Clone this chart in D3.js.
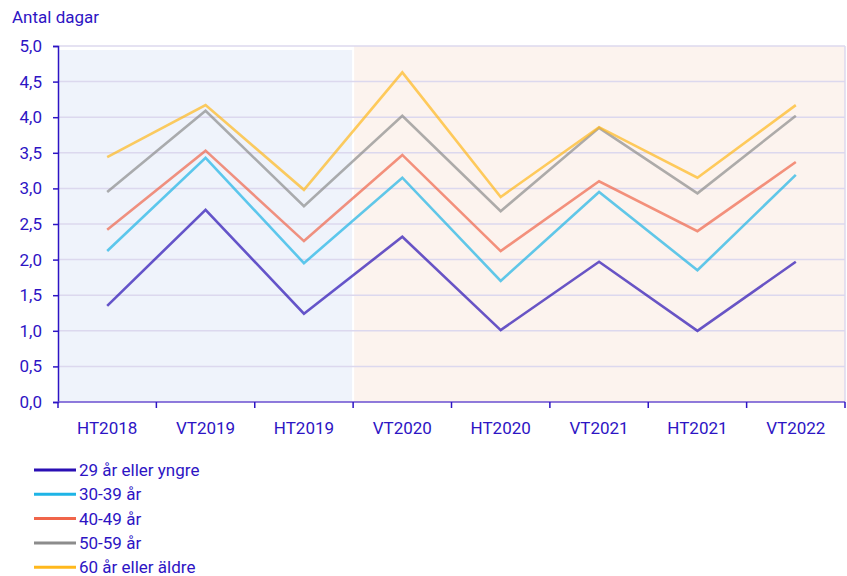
<!DOCTYPE html>
<html>
<head>
<meta charset="utf-8">
<script src="https://cdn.jsdelivr.net/npm/d3@7"></script>
<style>
  body { margin: 0; background: #fff; }
  svg { font-family: Roboto, sans-serif; }
</style>
</head>
<body>
<svg width="847" height="576"></svg>
<script>
var categories = ["HT2018", "VT2019", "HT2019", "VT2020", "HT2020", "VT2021", "HT2021", "VT2022"];
var seriesNames = ["29 år eller yngre", "30-39 år", "40-49 år", "50-59 år", "60 år eller äldre"];
var seriesColors = ["#2a0fb4", "#1eb4e6", "#f0654a", "#8c8c8c", "#ffb81c"];
var v29 = [1.35, 2.70, 1.24, 2.32, 1.01, 1.97, 1.00, 1.97];
var v30 = [2.12, 3.43, 1.95, 3.15, 1.70, 2.95, 1.85, 3.19];
var v40 = [2.42, 3.53, 2.26, 3.47, 2.12, 3.10, 2.40, 3.37];
var v50 = [2.95, 4.09, 2.75, 4.02, 2.68, 3.85, 2.93, 4.02];
var v60 = [3.44, 4.17, 2.98, 4.63, 2.88, 3.86, 3.15, 4.17];
var yTicks = [0, 0.5, 1, 1.5, 2, 2.5, 3, 3.5, 4, 4.5, 5];
// shaded periods: first three categories blue, rest peach
var periods = [
  {from: "HT2018", to: "HT2019", fill: "#eff3fb"},
  {from: "VT2020", to: "VT2022", fill: "#fcf3ee"}
];

var svg = d3.select("svg"),
    margin = {top: 46, right: 2, bottom: 174, left: 58},
    width = +svg.attr("width") - margin.left - margin.right,
    height = +svg.attr("height") - margin.top - margin.bottom,
    g = svg.append("g").attr("transform", "translate(" + margin.left + "," + margin.top + ")");

var textColor = "#2d14c4";
var gridColor = "#dcd8ee";
var fontSize = "17px";

var x = d3.scaleBand().domain(categories).range([0, width]);
var y = d3.scaleLinear().domain([0, 5]).range([height, 0]);

var series = [v29, v30, v40, v50, v60].map(function(vals, i) {
  return {name: seriesNames[i], color: seriesColors[i], values: vals};
});

// background periods
g.selectAll("rect.period")
  .data(periods)
  .enter().append("rect")
    .attr("class", "period")
    .attr("x", function(d, i) { return x(d.from) + (i === 0 ? 0 : 1); })
    .attr("y", function(d, i) { return i === 0 ? 4 : 0; })
    .attr("width", function(d) { return x(d.to) + x.bandwidth() - x(d.from) - 1; })
    .attr("height", function(d, i) { return height - (i === 0 ? 4 : 0); })
    .attr("fill", function(d) { return d.fill; });

// gridlines
g.selectAll("line.grid")
  .data(yTicks.filter(function(t) { return t > 0; }))
  .enter().append("line")
    .attr("class", "grid")
    .attr("x1", 0).attr("x2", width)
    .attr("y1", function(d) { return y(d); })
    .attr("y2", function(d) { return y(d); })
    .attr("stroke", gridColor)
    .attr("stroke-width", 1.5);

// right border
g.append("line")
  .attr("x1", width).attr("x2", width)
  .attr("y1", 0).attr("y2", height)
  .attr("stroke", gridColor).attr("stroke-width", 1.5);

// lines
var line = d3.line()
  .x(function(d, i) { return x(categories[i]) + x.bandwidth() / 2; })
  .y(function(d) { return y(d); });

g.selectAll("path.series")
  .data(series)
  .enter().append("path")
    .attr("class", "series")
    .attr("d", function(d) { return line(d.values); })
    .attr("fill", "none")
    .attr("stroke", function(d) { return d.color; })
    .attr("stroke-width", 2.6)
    .attr("stroke-opacity", 0.7);

// y axis
var yAxis = g.append("g")
  .call(d3.axisLeft(y).tickValues(yTicks).tickSize(5).tickPadding(11)
    .tickFormat(function(d) { return d3.format(".1f")(d).replace(".", ","); }));
yAxis.select(".domain").attr("stroke", textColor).attr("stroke-width", 1.5);
yAxis.selectAll(".tick line").attr("stroke", textColor).attr("stroke-width", 1.5);
yAxis.selectAll("text").attr("fill", textColor).style("font-size", fontSize)
  .style("font-family", "Roboto, sans-serif");

// x axis: ticks at band edges
var xAxis = g.append("g").attr("transform", "translate(0," + height + ")");
xAxis.append("line")
  .attr("x1", 0).attr("x2", width)
  .attr("stroke", "#6a4fd0").attr("stroke-width", 1.5);
xAxis.selectAll("line.tk")
  .data(categories.concat(["end"]))
  .enter().append("line")
    .attr("class", "tk")
    .attr("x1", function(d, i) { return i * x.step(); })
    .attr("x2", function(d, i) { return i * x.step(); })
    .attr("y1", 0).attr("y2", 6)
    .attr("stroke", textColor).attr("stroke-width", 1.5);
xAxis.selectAll("text")
  .data(categories)
  .enter().append("text")
    .attr("x", function(d) { return x(d) + x.bandwidth() / 2; })
    .attr("y", 32)
    .attr("text-anchor", "middle")
    .attr("fill", textColor)
    .style("font-size", fontSize)
    .text(function(d) { return d; });

// y title
svg.append("text")
  .attr("x", 12).attr("y", 23)
  .attr("fill", textColor)
  .style("font-size", fontSize)
  .text("Antal dagar");

// legend
var legend = svg.append("g").attr("transform", "translate(34,470)");
var item = legend.selectAll("g")
  .data(series)
  .enter().append("g")
    .attr("transform", function(d, i) { return "translate(0," + (i * 24.3) + ")"; });
item.append("line")
  .attr("x1", 0).attr("x2", 42)
  .attr("stroke", function(d) { return d.color; })
  .attr("stroke-width", 3);
item.append("text")
  .attr("x", 45).attr("y", 6)
  .attr("fill", textColor)
  .style("font-size", fontSize)
  .text(function(d) { return d.name; });
</script>
</body>
</html>
